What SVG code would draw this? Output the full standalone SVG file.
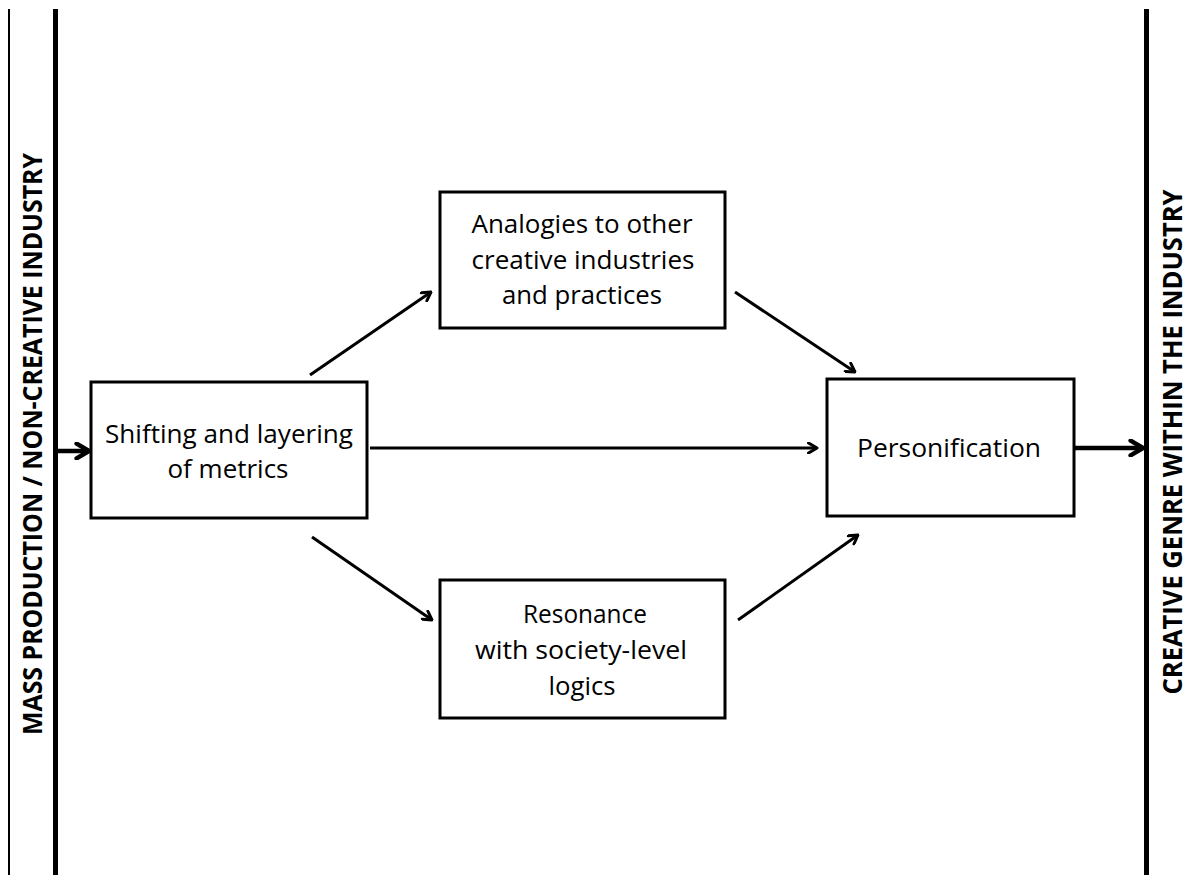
<svg xmlns="http://www.w3.org/2000/svg" width="1188" height="875" viewBox="0 0 1188 875">
<defs>
<style>
.box{fill:#fff;stroke:#000;stroke-width:3}
.t{font-family:"Open Sans","Liberation Sans",sans-serif;font-size:26px;fill:#000;text-anchor:middle}
.side{font-family:"Open Sans","Liberation Sans",sans-serif;font-size:26px;font-weight:bold;fill:#000;text-anchor:middle}
.c{stroke:#000;stroke-width:3;fill:none}
.ct{stroke:#000;stroke-width:4.5;fill:none}
</style>
<marker id="ah" viewBox="0 0 12 12" refX="10.5" refY="6" markerWidth="12" markerHeight="12" markerUnits="userSpaceOnUse" orient="auto">
<path d="M2,1 L10.5,6 L2,11" fill="none" stroke="#000" stroke-width="3" stroke-linecap="round" stroke-linejoin="round"/>
</marker>
<marker id="ahb" viewBox="0 0 16 16" refX="14" refY="8" markerWidth="18" markerHeight="18" markerUnits="userSpaceOnUse" orient="auto">
<path d="M3,1.5 L14,8 L3,14.5" fill="none" stroke="#000" stroke-width="4" stroke-linecap="round" stroke-linejoin="round"/>
</marker>
</defs>
<rect width="1188" height="875" fill="#fff"/>
<g id="borders">
<line x1="9" y1="9" x2="9" y2="875" stroke="#000" stroke-width="2"/>
<line x1="55.5" y1="9" x2="55.5" y2="875" stroke="#000" stroke-width="5"/>
<line x1="1146.5" y1="9" x2="1146.5" y2="875" stroke="#000" stroke-width="5"/>
</g>
<g id="label-left">
<text class="side" transform="translate(42,444) rotate(-90)" textLength="582" lengthAdjust="spacingAndGlyphs">MASS PRODUCTION / NON-CREATIVE INDUSTRY</text>
</g>
<g id="label-right">
<text class="side" transform="translate(1182,442) rotate(-90)" textLength="505" lengthAdjust="spacingAndGlyphs">CREATIVE GENRE WITHIN THE INDUSTRY</text>
</g>
<g id="connectors">
<line class="ct" x1="58" y1="451" x2="89" y2="451" marker-end="url(#ahb)"/>
<line class="ct" x1="1075" y1="448" x2="1143" y2="448" marker-end="url(#ahb)"/>
<line class="c" x1="370" y1="448" x2="817" y2="448" marker-end="url(#ah)"/>
<line class="c" x1="310" y1="375" x2="431" y2="292" marker-end="url(#ah)"/>
<line class="c" x1="735" y1="292" x2="855" y2="372" marker-end="url(#ah)"/>
<line class="c" x1="312" y1="537" x2="432" y2="620" marker-end="url(#ah)"/>
<line class="c" x1="738" y1="620" x2="858" y2="535" marker-end="url(#ah)"/>
</g>
<g id="node-shifting">
<rect class="box" x="91" y="382" width="276" height="136"/>
<text class="t" x="229" y="443" textLength="248" lengthAdjust="spacingAndGlyphs">Shifting and layering</text>
<text class="t" x="228" y="478" textLength="121" lengthAdjust="spacingAndGlyphs">of metrics</text>
</g>
<g id="node-analogies">
<rect class="box" x="440" y="192" width="285" height="136"/>
<text class="t" x="582" y="233" textLength="221" lengthAdjust="spacingAndGlyphs">Analogies to other</text>
<text class="t" x="583" y="269" textLength="223" lengthAdjust="spacingAndGlyphs">creative industries</text>
<text class="t" x="582" y="304" textLength="160" lengthAdjust="spacingAndGlyphs">and practices</text>
</g>
<g id="node-personification">
<rect class="box" x="827" y="379" width="247" height="137"/>
<text class="t" x="949" y="457" textLength="184" lengthAdjust="spacingAndGlyphs">Personification</text>
</g>
<g id="node-resonance">
<rect class="box" x="440" y="580" width="285" height="138"/>
<text class="t" x="585" y="623" textLength="124" lengthAdjust="spacingAndGlyphs">Resonance</text>
<text class="t" x="581" y="659" textLength="212" lengthAdjust="spacingAndGlyphs">with society-level</text>
<text class="t" x="582" y="695" textLength="67" lengthAdjust="spacingAndGlyphs">logics</text>
</g>
</svg>
